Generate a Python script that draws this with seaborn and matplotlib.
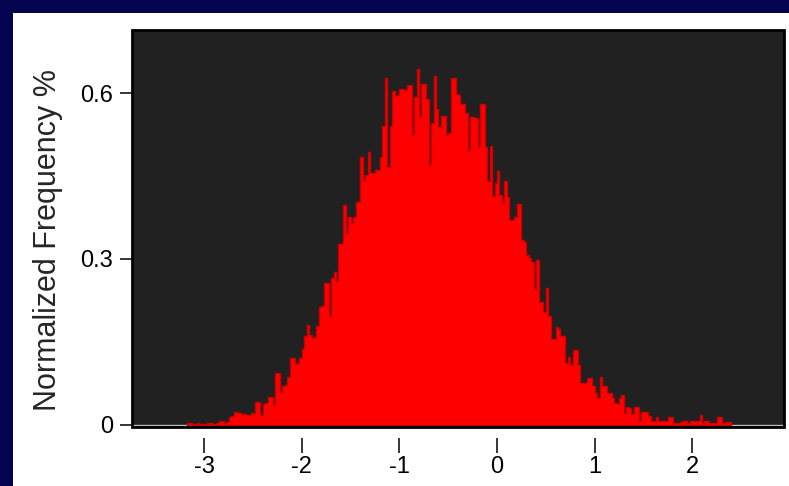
import numpy as np
import pandas as pd
import seaborn as sns
from matplotlib import pyplot as plt
from matplotlib.patches import Rectangle

# histogram: bin start, bin width, height of each bin
x_start = -3.175
bin_w = 0.025
heights = [
    0.004, 0.004, 0.002, 0.002, 0.004, 0.002, 0.002, 0.002, 0.004, 0.004,
    0.002, 0.002, 0.003, 0.006, 0.006, 0.004, 0.005, 0.014, 0.016, 0.024,
    0.024, 0.022, 0.020, 0.019, 0.018, 0.018, 0.022, 0.020, 0.042, 0.042,
    0.018, 0.038, 0.040, 0.050, 0.050, 0.035, 0.094, 0.094, 0.060, 0.070,
    0.072, 0.087, 0.120, 0.120, 0.110, 0.112, 0.120, 0.137, 0.160, 0.180,
    0.163, 0.157, 0.158, 0.179, 0.213, 0.215, 0.257, 0.257, 0.197, 0.265,
    0.277, 0.260, 0.327, 0.328, 0.398, 0.347, 0.376, 0.365, 0.376, 0.403,
    0.403, 0.485, 0.443, 0.452, 0.494, 0.456, 0.456, 0.460, 0.460, 0.485,
    0.541, 0.627, 0.467, 0.541, 0.604, 0.595, 0.597, 0.607, 0.607, 0.606,
    0.615, 0.615, 0.524, 0.593, 0.644, 0.557, 0.617, 0.617, 0.590, 0.470,
    0.546, 0.631, 0.571, 0.539, 0.559, 0.559, 0.524, 0.528, 0.627, 0.627,
    0.598, 0.597, 0.580, 0.580, 0.564, 0.495, 0.557, 0.557, 0.555, 0.503,
    0.580, 0.580, 0.503, 0.441, 0.505, 0.414, 0.438, 0.459, 0.416, 0.401,
    0.441, 0.412, 0.371, 0.371, 0.376, 0.400, 0.400, 0.335, 0.330, 0.307,
    0.301, 0.295, 0.246, 0.298, 0.222, 0.222, 0.204, 0.248, 0.197, 0.155,
    0.155, 0.177, 0.173, 0.161, 0.161, 0.112, 0.123, 0.109, 0.136, 0.136,
    0.108, 0.076, 0.076, 0.075, 0.085, 0.085, 0.070, 0.058, 0.049, 0.087,
    0.070, 0.070, 0.058, 0.058, 0.049, 0.040, 0.038, 0.049, 0.053, 0.022,
    0.033, 0.031, 0.020, 0.033, 0.033, 0.007, 0.024, 0.024, 0.023, 0.015,
    0.007, 0.007, 0.014, 0.007, 0.007, 0.007, 0.007, 0.014, 0.014, 0.003,
    0.003, 0.003, 0.005, 0.006, 0.006, 0.003, 0.006, 0.006, 0.006, 0.006,
    0.018, 0.003, 0.006, 0.006, 0.003, 0.003, 0.003, 0.014, 0.014, 0.003,
    0.003, 0.005, 0.005,
]
x_ticks = [-3, -2, -1, 0, 1, 2]
y_ticks = [0, 0.3, 0.6]
y_ticklabels = ['0', '0.3', '0.6']

n_bins = len(heights)
centers = x_start + bin_w * (np.arange(n_bins) + 0.5)
df = pd.DataFrame({'x': centers, 'h': heights})

sns.set_style('ticks')
plt.rcParams['font.family'] = ['Liberation Sans', 'DejaVu Sans']

fig = plt.figure(figsize=(7.89, 4.86), dpi=100)
fig.patch.set_facecolor('#03034f')
# white page, navy strip left and top only
fig.patches.append(Rectangle((13 / 789, 0), 1, 1 - 13 / 486, transform=fig.transFigure,
                             facecolor='white', edgecolor='none', zorder=-10))

ax = fig.add_axes([132 / 789, (486 - 427) / 486, (784 - 132) / 789, (427 - 30) / 486])
ax.set_zorder(2)
ax.set_facecolor('#212121')

sns.histplot(data=df, x='x', weights='h', bins=n_bins,
             binrange=(x_start, x_start + n_bins * bin_w), stat='count',
             element='step', fill=True, color='#ff0000', alpha=1,
             edgecolor='#cc0000', linewidth=1.0, ax=ax)
ax.axhline(0, color='#bdbdbd', lw=1, zorder=0.5)

ax.set_xlim(-3.74, 2.94)
ax.set_ylim(-0.004, 0.714)
ax.set_xticks(x_ticks)
ax.set_xticklabels([str(t) for t in x_ticks])
ax.set_yticks(y_ticks)
ax.set_yticklabels(y_ticklabels)

for s in ax.spines.values():
    s.set_visible(False)
ax.spines['bottom'].set_position(('outward', 8))
ax.add_patch(Rectangle((0, 0), 1, 1, transform=ax.transAxes, fill=False,
                       edgecolor='black', lw=2, clip_on=False, zorder=5))

ax.tick_params(axis='x', direction='out', length=11, width=1.1, pad=2,
               labelsize=17, colors='black')
ax.tick_params(axis='y', direction='out', length=9, width=1.1, pad=4.5,
               labelsize=17, colors='black')
ax.set_xlabel('')
ax.set_ylabel('Normalized Frequency %', fontsize=22)
ax.yaxis.set_label_coords(-0.106, 0.471)

fig.savefig('out.png', dpi=100, facecolor=fig.get_facecolor())
